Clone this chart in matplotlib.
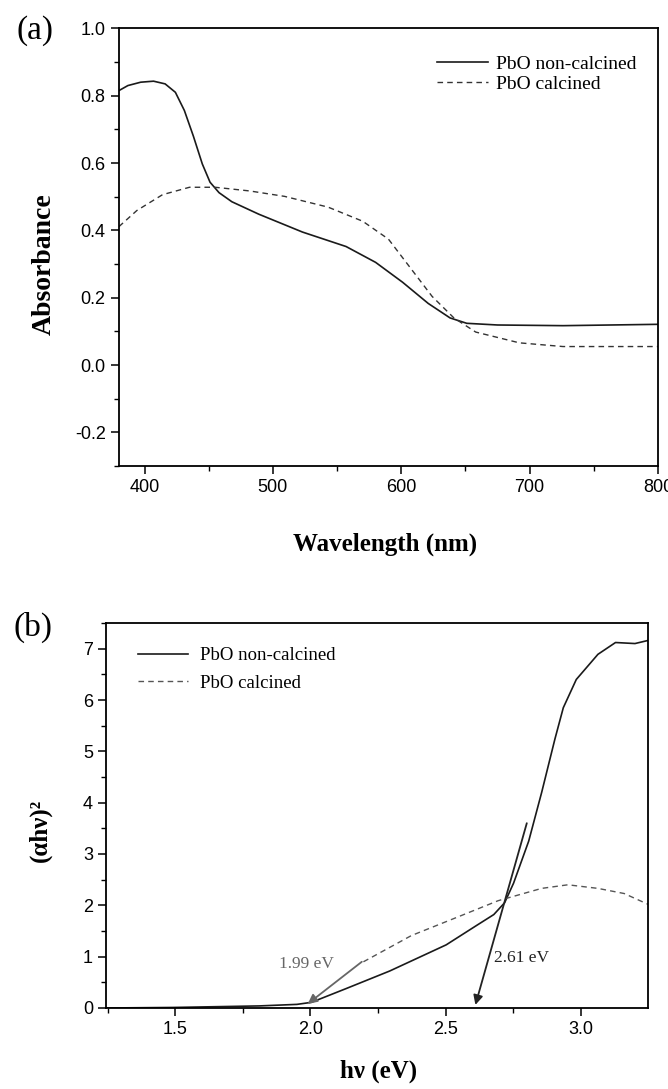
import matplotlib
matplotlib.use('Agg')
import matplotlib.pyplot as plt
from matplotlib.ticker import MultipleLocator, FormatStrFormatter

plt.rcParams['axes.unicode_minus'] = False

# (a) absorbance spectra
wl_non = [380, 387, 397, 407, 416, 424, 431, 438, 445, 451, 458, 468, 489, 523,
          557, 580, 601, 621, 638, 651, 675, 726, 800]
abs_non = [0.815, 0.83, 0.84, 0.843, 0.835, 0.81, 0.756, 0.68, 0.597, 0.543, 0.512,
           0.485, 0.448, 0.395, 0.352, 0.305, 0.246, 0.183, 0.14, 0.124, 0.119, 0.117, 0.121]
wl_cal = [380, 394, 414, 435, 455, 482, 509, 543, 570, 590, 607, 624, 641, 658,
          692, 726, 800]
abs_cal = [0.411, 0.459, 0.506, 0.528, 0.528, 0.517, 0.501, 0.469, 0.427, 0.374,
           0.289, 0.204, 0.14, 0.098, 0.066, 0.055, 0.055]

# (b) Tauc plot
ev_non = [1.25, 1.49, 1.81, 1.95, 2.004, 2.133, 2.293, 2.502, 2.615, 2.678, 2.718,
          2.751, 2.807, 2.855, 2.904, 2.935, 2.983, 3.063, 3.128, 3.2, 3.248]
tauc_non = [0.0, 0.01, 0.04, 0.07, 0.11, 0.38, 0.72, 1.23, 1.61, 1.82, 2.05,
            2.43, 3.25, 4.2, 5.24, 5.85, 6.4, 6.89, 7.12, 7.1, 7.16]
ev_cal = [2.196, 2.373, 2.534, 2.694, 2.855, 2.952, 3.063, 3.16, 3.248]
tauc_cal = [0.9, 1.41, 1.75, 2.09, 2.33, 2.40, 2.33, 2.23, 2.02]

gap_labels = ['1.99 eV', '2.61 eV']
gap_text_xy = [(1.985, 0.86), (2.78, 0.98)]
gap_arrow_start = [(2.19, 0.9), (2.80, 3.6)]
gap_arrow_end = [(1.99, 0.08), (2.61, 0.06)]
gap_colors = ['#666666', '#222222']

serif = 'Liberation Serif'
sans = 'Liberation Sans'

fig = plt.figure(figsize=(6.68, 10.89), dpi=100)
ax1 = fig.add_axes([0.178, 0.572, 0.807, 0.402])
ax2 = fig.add_axes([0.159, 0.0744, 0.811, 0.3535])

for ax in (ax1, ax2):
    ax.tick_params(which='both', direction='out', top=False, right=False)
    ax.tick_params(which='major', length=6, width=1.1, labelsize=13)
    ax.tick_params(which='minor', length=3.5, width=1.0)
    for sp in ax.spines.values():
        sp.set_linewidth(1.3)

# panel (a)
ax1.plot(wl_non, abs_non, color='#1a1a1a', lw=1.2, label='PbO non-calcined')
ax1.plot(wl_cal, abs_cal, color='#333333', lw=1.0, ls=(0, (4, 3)), label='PbO calcined')
ax1.set_xlim(380, 800)
ax1.set_ylim(-0.3, 1.0)
ax1.xaxis.set_major_locator(MultipleLocator(100))
ax1.xaxis.set_minor_locator(MultipleLocator(50))
ax1.yaxis.set_major_locator(MultipleLocator(0.2))
ax1.yaxis.set_minor_locator(MultipleLocator(0.1))
ax1.yaxis.set_major_formatter(FormatStrFormatter('%.1f'))
ax1.set_xlabel('Wavelength (nm)', family=serif, fontweight='bold', fontsize=18)
ax1.set_ylabel('Absorbance', family=serif, fontweight='bold', fontsize=20)
ax1.xaxis.set_label_coords(0.494, -0.153)
ax1.yaxis.set_label_coords(-0.115, 0.461)
ax1.legend(loc='upper left', bbox_to_anchor=(0.59, 0.939), frameon=False,
           prop={'family': serif, 'size': 14}, handlelength=2.6,
           handletextpad=0.45, labelspacing=0.15, borderpad=0, borderaxespad=0)
fig.text(0.053, 0.972, '(a)', family=serif, fontsize=24, ha='center', va='center')

# panel (b)
ax2.plot(ev_non, tauc_non, color='#1a1a1a', lw=1.2, label='PbO non-calcined')
ax2.plot(ev_cal, tauc_cal, color='#555555', lw=1.0, ls=(0, (4, 3)), label='PbO calcined')
for lab, txy, st, en, col in zip(gap_labels, gap_text_xy, gap_arrow_start,
                                  gap_arrow_end, gap_colors):
    ax2.annotate('', xy=en, xytext=st,
                 arrowprops=dict(arrowstyle='-|>', color=col, lw=1.3,
                                 mutation_scale=14, shrinkA=0, shrinkB=0))
    ax2.text(txy[0], txy[1], lab, family=serif, fontsize=12.5, color=col,
             ha='center', va='center')
ax2.set_xlim(1.245, 3.248)
ax2.set_ylim(0, 7.5)
ax2.xaxis.set_major_locator(MultipleLocator(0.5))
ax2.xaxis.set_minor_locator(MultipleLocator(0.25))
ax2.yaxis.set_major_locator(MultipleLocator(1))
ax2.yaxis.set_minor_locator(MultipleLocator(0.5))
ax2.xaxis.set_major_formatter(FormatStrFormatter('%.1f'))
ax2.yaxis.set_major_formatter(FormatStrFormatter('%d'))
ax2.set_xlabel('hν (eV)', family=serif, fontweight='bold', fontsize=18)
ax2.set_ylabel('(αhν)²', family=serif, fontweight='bold', fontsize=18)
ax2.xaxis.set_label_coords(0.503, -0.133)
ax2.yaxis.set_label_coords(-0.10, 0.462)
ax2.legend(loc='upper left', bbox_to_anchor=(0.058, 0.937), frameon=False,
           prop={'family': serif, 'size': 13.5}, handlelength=2.7,
           handletextpad=0.6, labelspacing=0.55, borderpad=0, borderaxespad=0)
fig.text(0.049, 0.424, '(b)', family=serif, fontsize=24, ha='center', va='center')

for ax in (ax1, ax2):
    for lab in ax.get_xticklabels() + ax.get_yticklabels():
        lab.set_family(sans)

fig.savefig('out.png', dpi=100, facecolor='white')
